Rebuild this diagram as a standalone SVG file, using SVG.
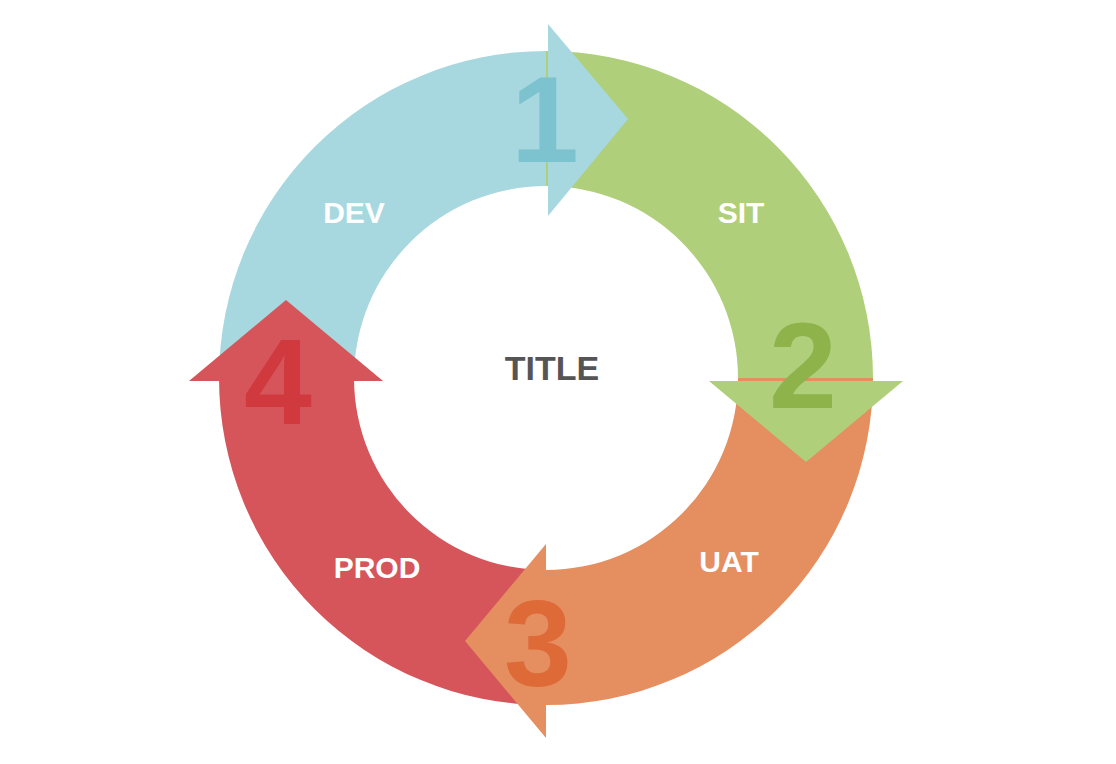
<svg xmlns="http://www.w3.org/2000/svg" width="1116" height="764" viewBox="0 0 1116 764">
<style>
.lbl{font-family:"Liberation Sans",Arial,sans-serif;font-weight:bold;font-size:30px;fill:#fff;text-anchor:middle}
.num{font-family:"Liberation Sans",Arial,sans-serif;font-weight:bold;font-size:122px;text-anchor:middle}
.ttl{font-family:"Liberation Sans",Arial,sans-serif;font-weight:bold;font-size:34px;fill:#555;text-anchor:middle}
</style>
<rect width="1116" height="764" fill="#fff"/>
<g id="bands">
<path d="M219,378 A327,327 0 0 1 546,51 L546,186 A192,192 0 0 0 354,378 Z" fill="#a8d8df"/>
<path d="M546,51 A327,327 0 0 1 873,378 L738,378 A192,192 0 0 0 546,186 Z" fill="#b0cf7a"/>
<path d="M873,378 A327,327 0 0 1 546,705 L546,570 A192,192 0 0 0 738,378 Z" fill="#e58e60"/>
<path d="M546,705 A327,327 0 0 1 219,378 L354,378 A192,192 0 0 0 546,570 Z" fill="#d5555b"/>
</g>
<g id="connectors">
<polygon points="548,24 628,119 548,216" fill="#a8d8df"/>
<polygon points="709,381 903,381 806,462" fill="#b0cf7a"/>
<polygon points="546,544 546,738 465,641" fill="#e58e60"/>
<polygon points="189,381 383,381 286,300" fill="#d5555b"/>
</g>
<g id="dev"><text class="num" x="545" y="162" fill="#7dc2cf">1</text><text class="lbl" x="354" y="223">DEV</text></g>
<g id="sit"><text class="num" x="803" y="408" fill="#8db34a">2</text><text class="lbl" x="741" y="223">SIT</text></g>
<g id="uat"><text class="num" x="538" y="686" fill="#dd6a37">3</text><text class="lbl" x="729" y="572">UAT</text></g>
<g id="prod"><text class="num" x="278" y="424" fill="#d0393e">4</text><text class="lbl" x="377" y="578">PROD</text></g>
<g id="title"><text class="ttl" x="552" y="380">TITLE</text></g>
</svg>
